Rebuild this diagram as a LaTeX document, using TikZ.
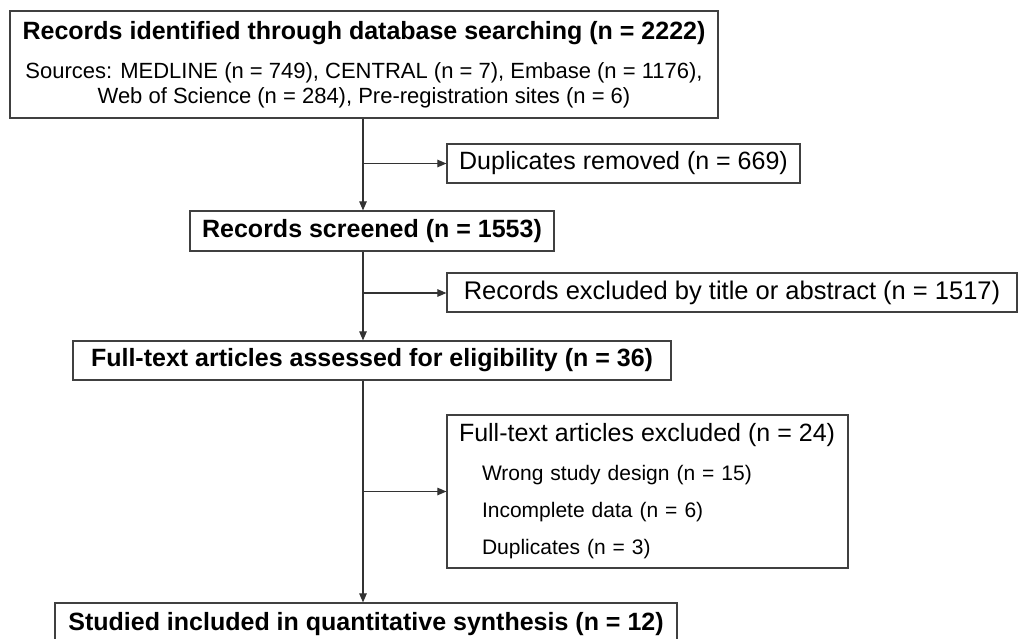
\documentclass[tikz,border=0pt]{standalone}
\usepackage{fontspec}
\setmainfont{Liberation Sans}
\usetikzlibrary{arrows.meta, positioning}

\begin{document}
\begin{tikzpicture}[
	x=1pt, y=-1pt,
	box/.style={draw=black!75, line width=1.2pt, inner sep=0pt, minimum height=39pt, font=\fontsize{25}{30}\selectfont},
	mainbox/.style={box, font=\bfseries\fontsize{25}{30}\selectfont},
	flow/.style={-{Triangle[length=9pt,width=7.5pt]}, draw=black!80, line width=1.1pt}
	]
	\useasboundingbox (0,0) rectangle (1019,639);
	
	% ---------------- MAIN COLUMN ----------------
	\node[mainbox, minimum width=708pt, minimum height=107pt, align=center, font=\fontsize{22}{25}\selectfont] (search) at (364,64.5)
	{{\bfseries\fontsize{25}{30}\selectfont Records identified through database searching (n = 2222)}\\[14pt]
		Sources: MEDLINE (n = 749), CENTRAL (n = 7), Embase (n = 1176),\\
		Web of Science (n = 284), Pre-registration sites (n = 6)};
	\node[mainbox, minimum width=364pt, minimum height=40pt] (screened) at (372,231) {Records screened (n = 1553)};
	\node[mainbox, minimum width=598pt] (fulltext) at (372,360.5) {Full-text articles assessed for eligibility (n = 36)};
	\node[mainbox, minimum width=622pt, minimum height=42pt] (studied) at (366,624) {Studied included in quantitative synthesis (n = 12)};
	
	% ---------------- SIDE BOXES ----------------
	\node[box, minimum width=353pt] (dupl) at (623.5,163.5) {Duplicates removed (n = 669)};
	\node[box, minimum width=570pt, font=\fontsize{25.5}{30}\selectfont] (title) at (732,292.5) {Records excluded by title or abstract (n = 1517)};
	\node[box, text width=377pt, inner xsep=12pt, minimum height=153pt, align=left, font=\fontsize{21}{37}\selectfont] (excl) at (647.5,491.5)
	{{\fontsize{25}{30}\selectfont Full-text articles excluded (n = 24)}\\[2pt]
		\hspace*{23pt}Wrong study design (n = 15)\\
		\hspace*{23pt}Incomplete data (n = 6)\\
		\hspace*{23pt}Duplicates (n = 3)};
	
	% ---------------- CONNECTORS ----------------
	\coordinate (spine) at (363,0);
	\coordinate (b1) at (363,163.5);
	\coordinate (b2) at (363,293);
	\coordinate (b3) at (363,491.5);
	
	\draw[flow] (search.south -| spine) -- (screened.north -| spine);
	\draw[flow] (screened.south -| spine) -- (fulltext.north -| spine);
	\draw[flow] (fulltext.south -| spine) -- (studied.north -| spine);
	
	\draw[flow] (b1) -- (dupl.west);
	\draw[flow] (b2) -- (title.west |- b2);
	\draw[flow] (b3) -- (excl.west);
	
\end{tikzpicture}
\end{document}
